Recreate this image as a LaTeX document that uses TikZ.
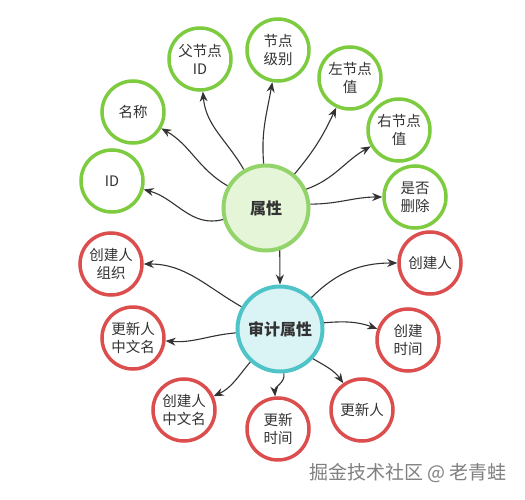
\documentclass[tikz,border=0pt]{standalone}
\usepackage{fontspec}
\setmainfont{Noto Sans CJK SC}
\usetikzlibrary{arrows.meta}
\definecolor{gborder}{HTML}{7DCB3F}
\definecolor{gmainb}{HTML}{93D46A}
\definecolor{gfill}{HTML}{E5F5D8}
\definecolor{rborder}{HTML}{DC4D4D}
\definecolor{cborder}{HTML}{4FC4C8}
\definecolor{cfill}{HTML}{DAF3F5}
\definecolor{txt}{HTML}{333333}
\definecolor{edge}{HTML}{333333}
\tikzset{
  leaf/.style={circle,line width=3.5pt,minimum size=62pt,inner sep=0pt,align=center,
    font=\fontsize{14.5pt}{18pt}\selectfont,text=txt,fill=white},
  gleaf/.style={leaf,draw=gborder},
  rleaf/.style={leaf,draw=rborder},
  mainnode/.style={circle,line width=4pt,minimum size=85pt,inner sep=0pt,align=center,
    font=\fontsize{16pt}{19pt}\selectfont\bfseries,text=txt},
  arr/.style={draw=edge,line width=1.1pt,-{Stealth[length=10pt,width=8pt]}},
}
\begin{document}
\begin{tikzpicture}[x=1pt,y=-1pt]
\useasboundingbox (0,0) rectangle (525,500);
\fill[white] (0,0) rectangle (525,500);
% main nodes
\node[mainnode,draw=gmainb,fill=gfill] (P) at (266,208) {属性};
\node[mainnode,draw=cborder,fill=cfill] (A) at (280,329) {审计属性};
% green leaves
\node[gleaf] (id) at (112,181) {ID};
\node[gleaf] (mc) at (133,112) {名称};
\node[gleaf] (fid) at (200,59) {父节点\\ID};
\node[gleaf] (jb) at (278,50) {节点\\级别};
\node[gleaf] (zz) at (350,78) {左节点\\值};
\node[gleaf] (yz) at (399,130) {右节点\\值};
\node[gleaf] (sc) at (415,197) {是否\\删除};
% red leaves
\node[rleaf] (zz2) at (111,264) {创建人\\组织};
\node[rleaf] (cjr) at (430,263) {创建人};
\node[rleaf] (gxzw) at (133,338) {更新人\\中文名};
\node[rleaf] (cjsj) at (408,340) {创建\\时间};
\node[rleaf] (cjzw) at (184,410) {创建人\\中文名};
\node[rleaf] (gxsj) at (278,429) {更新\\时间};
\node[rleaf] (gxr) at (362,410) {更新人};
% edges from 属性
\draw[arr] (P) to[out=195,in=-15] (id);
\draw[arr] (P) to[out=150,in=-30] (mc);
\draw[arr] (P.120) to[out=120,in=-85] (fid);
\draw[arr] (P.93) to[out=95,in=-100] (jb);
\draw[arr] (P.50) to[out=50,in=-115] (zz);
\draw[arr] (P.25) to[out=20,in=-150] (yz);
\draw[arr] (P.5) to[out=0,in=180] (sc);
\draw[arr] (P.-72) -- (A.north);
% edges from 审计属性
\draw[arr] (A.150) to[out=150,in=0] (zz2);
\draw[arr] (A.45) to[out=45,in=180] (cjr);
\draw[arr] (A.185) to[out=185,in=-5] (gxzw);
\draw[arr] (A.8) to[out=5,in=160] (cjsj);
\draw[arr] (A.228) to[out=230,in=25] (cjzw);
\draw[arr] (A.275) to[out=-80,in=95] (gxsj);
\draw[arr] (A.318) to[out=-30,in=125] (gxr);
% watermark
\node[text=black!50,font=\fontsize{19pt}{21pt}\selectfont] (wm) at (408,473) {掘金技术社区 @ 老青蛙};
\end{tikzpicture}
\end{document}
